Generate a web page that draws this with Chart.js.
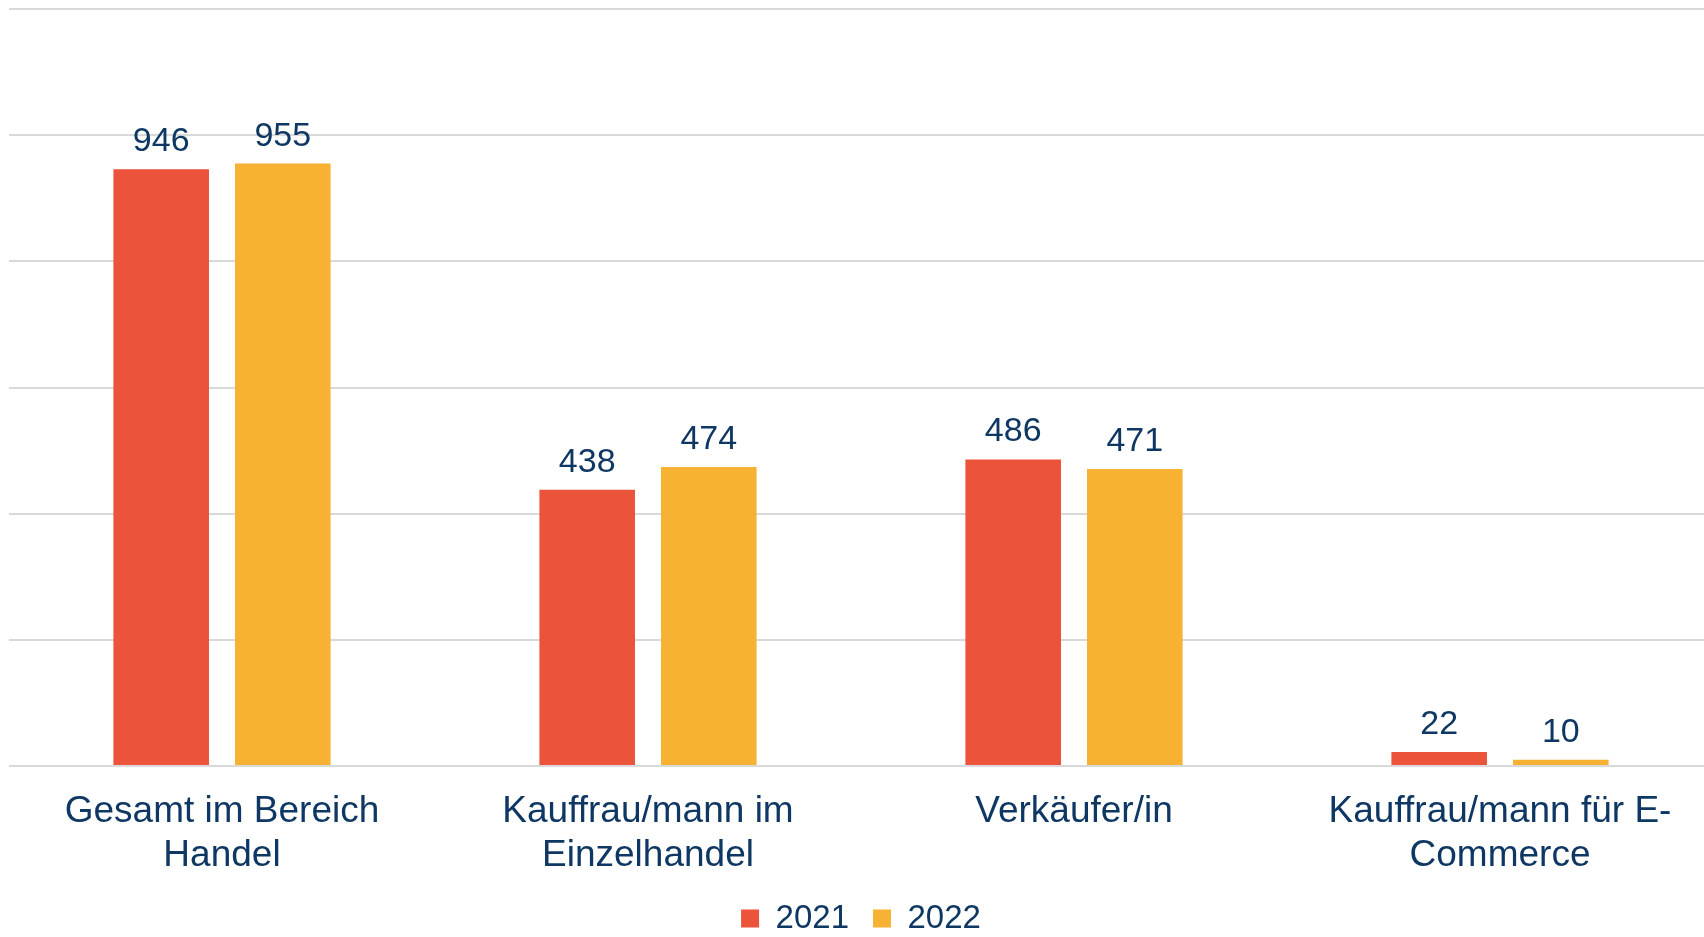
<!DOCTYPE html>
<html>
<head>
<meta charset="utf-8">
<script src="https://cdn.jsdelivr.net/npm/chart.js@4"></script>
<style>
html,body{margin:0;padding:0;background:#fff;overflow:hidden;}
#wrap{width:1704px;height:937px;position:relative;overflow:hidden;}
</style>
</head>
<body>
<div id="wrap"><canvas id="c" width="1713" height="937"></canvas></div>
<script>
const categories = [
  ["Gesamt im Bereich", "Handel"],
  ["Kauffrau/mann im", "Einzelhandel"],
  ["Verkäufer/in"],
  ["Kauffrau/mann für E-", "Commerce"]
];
const seriesNames = ["2021", "2022"];
const values2021 = [946, 438, 486, 22];
const values2022 = [955, 474, 471, 10];
const yTicks = [0, 200, 400, 600, 800, 1000, 1200];

const textColor = "#0F3763";
const FONT = "'Liberation Sans', Arial, sans-serif";

const valueLabels = {
  id: "valueLabels",
  afterDatasetsDraw(chart) {
    const ctx = chart.ctx;
    ctx.save();
    ctx.font = "34px " + FONT;
    ctx.fillStyle = textColor;
    ctx.textAlign = "center";
    ctx.textBaseline = "alphabetic";
    chart.data.datasets.forEach((ds, i) => {
      const meta = chart.getDatasetMeta(i);
      meta.data.forEach((bar, j) => {
        ctx.fillText(String(ds.data[j]), bar.x, bar.y - 18);
      });
    });
    ctx.restore();
  }
};

new Chart(document.getElementById("c"), {
  type: "bar",
  data: {
    labels: categories,
    datasets: [
      { label: seriesNames[0], data: values2021, backgroundColor: "#EB533B",
        categoryPercentage: 0.571, barPercentage: 0.786 },
      { label: seriesNames[1], data: values2022, backgroundColor: "#F7B233",
        categoryPercentage: 0.571, barPercentage: 0.786 }
    ]
  },
  options: {
    responsive: false,
    animation: false,
    devicePixelRatio: 1,
    layout: { padding: { left: 9, right: 0, top: 9, bottom: -8 } },
    plugins: {
      legend: {
        position: "bottom",
        labels: {
          boxWidth: 18, boxHeight: 18, padding: 24,
          color: textColor,
          font: { family: FONT, size: 33 }
        }
      },
      tooltip: { enabled: false }
    },
    scales: {
      x: {
        grid: { display: false, drawTicks: false },
        border: { display: false },
        afterFit(axis) { axis.height = 112; },
        ticks: {
          color: textColor, padding: 24,
          maxRotation: 0, autoSkip: false,
          font: { family: FONT, size: 37, lineHeight: 1.18 }
        }
      },
      y: {
        min: yTicks[0], max: yTicks[yTicks.length - 1],
        afterBuildTicks(axis) { axis.ticks = yTicks.map(v => ({ value: v })); },
        grid: { color: "#D9D9D9", lineWidth: 2, drawTicks: false },
        border: { display: false },
        ticks: { display: false }
      }
    }
  },
  plugins: [valueLabels]
});
</script>
</body>
</html>
